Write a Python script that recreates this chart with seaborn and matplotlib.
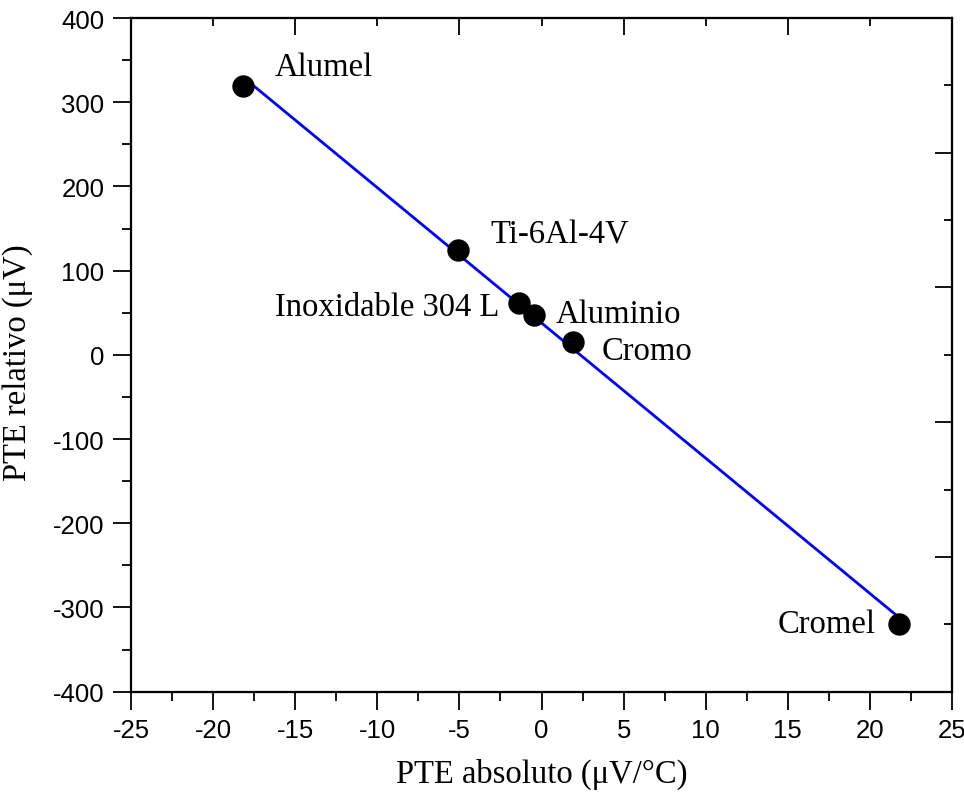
import matplotlib
matplotlib.use("Agg")
import matplotlib.pyplot as plt
import seaborn as sns
import numpy as np
import pandas as pd
from matplotlib.ticker import MultipleLocator

materials = ["Alumel", "Ti-6Al-4V", "Inoxidable 304 L", "Aluminio", "Cromo", "Cromel"]
pte_abs = [-18.16, -5.07, -1.35, -0.46, 1.94, 21.75]
pte_rel = [319.0, 125.0, 61.5, 47.6, 15.6, -319.7]

df = pd.DataFrame({"x": pte_abs, "y": pte_rel, "m": materials})

sns.set_style("ticks")
plt.rcParams["font.family"] = ["Liberation Sans", "DejaVu Sans"]
plt.rcParams["axes.unicode_minus"] = False
plt.rcParams["text.color"] = "black"
plt.rcParams["axes.labelcolor"] = "black"
plt.rcParams["xtick.color"] = "black"
plt.rcParams["ytick.color"] = "black"

fig = plt.figure(figsize=(9.64, 8.03), dpi=100)
ax = fig.add_axes([0.1359, 0.1374, 0.9876 - 0.1359, 0.9763 - 0.1374])

sns.regplot(data=df, x="x", y="y", ax=ax, ci=None, scatter=False,
            line_kws={"color": "#0000ff", "lw": 2.0, "zorder": 2})
sns.scatterplot(data=df, x="x", y="y", ax=ax, s=260, color="black",
                edgecolor="black", linewidth=0, zorder=3, legend=False)

# labels
lab_x = [-16.23, -3.09, -2.57, 0.88, 3.66, 20.37]
lab_y = [341.8, 143.5, 57.6, 48.5, 4.9, -319.7]
lab_ha = ["left", "left", "right", "left", "left", "right"]
serif = ["Liberation Serif", "DejaVu Serif"]
for name, lx, ly, ha in zip(materials, lab_x, lab_y, lab_ha):
    ax.text(lx, ly, name, ha=ha, va="center", fontsize=23.5, family=serif,
            color="black")

ax.set_xlim(-25, 25)
ax.set_ylim(-400, 400)
ax.xaxis.set_major_locator(MultipleLocator(5))
ax.xaxis.set_minor_locator(MultipleLocator(2.5))
ax.yaxis.set_major_locator(MultipleLocator(100))
ax.yaxis.set_minor_locator(MultipleLocator(50))
ax.tick_params(which="major", direction="out", length=13, width=1.3,
               labelsize=18.5, pad=6, colors="black")
ax.tick_params(which="minor", direction="out", length=6.5, width=1.3)
for sp in ax.spines.values():
    sp.set_visible(True)
    sp.set_linewidth(1.5)
    sp.set_color("black")

ax.set_xlabel("PTE absoluto (\u03bcV/\u00b0C)", fontsize=23.5, family=serif)
ax.set_ylabel("PTE relativo (\u03bcV)", fontsize=23.5, family=serif)
ax.xaxis.set_label_coords(0.5, -0.098)
ax.yaxis.set_label_coords(-0.119, 0.49)

# top axis ticks (inward)
axt = ax.twiny()
axt.set_xlim(-25, 25)
axt.xaxis.set_major_locator(MultipleLocator(10, offset=5))
axt.xaxis.set_minor_locator(MultipleLocator(10))
axt.tick_params(axis="x", which="major", direction="in", length=12.5, width=1.3,
                labeltop=False, top=True)
axt.tick_params(axis="x", which="minor", direction="in", length=6, width=1.3, top=True)
axt.set_xticklabels([])
# right axis ticks (inward)
axr = ax.twinx()
axr.set_ylim(-400, 400)
axr.yaxis.set_major_locator(MultipleLocator(160, offset=80))
axr.yaxis.set_minor_locator(MultipleLocator(160))
axr.tick_params(axis="y", which="major", direction="in", length=12.5, width=1.3,
                labelright=False, right=True)
axr.tick_params(axis="y", which="minor", direction="in", length=6, width=1.3, right=True)
for a in (axt, axr):
    for sp in a.spines.values():
        sp.set_linewidth(1.5)
        sp.set_color("black")

fig.savefig("out.png", dpi=100)
